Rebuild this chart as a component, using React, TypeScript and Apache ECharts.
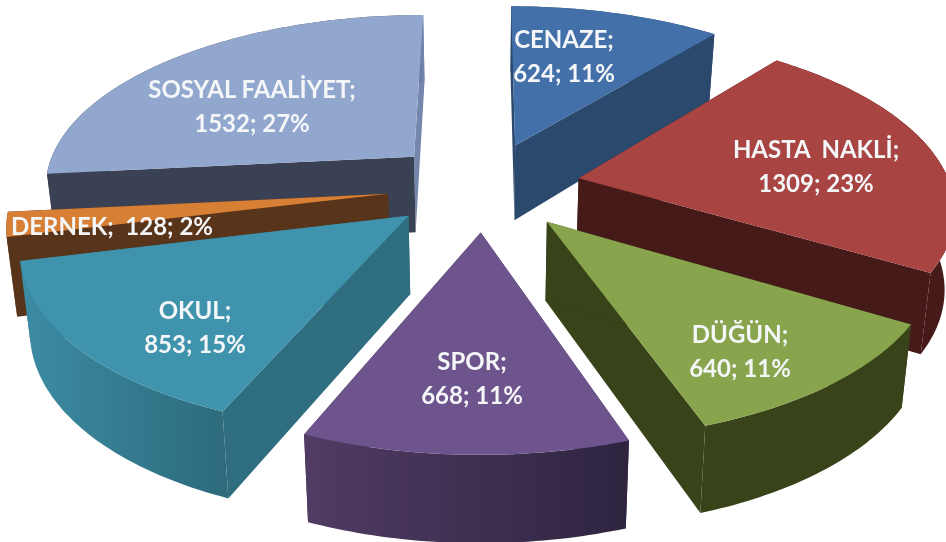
import React, { useEffect, useRef } from "react";
import * as echarts from "echarts";

const names = ["CENAZE", "HASTA  NAKLİ", "DÜĞÜN", "SPOR", "OKUL", "DERNEK", "SOSYAL FAALİYET"];
const values = [624, 1309, 640, 668, 853, 128, 1532];
const percents = [11, 23, 11, 11, 15, 2, 27];

const topColors = ["#4370A8", "#A84442", "#88A44D", "#6E548D", "#3F93AD", "#D77F35", "#92A7CE"];
const wallColors = ["#2B486D", "#451A18", "#384319", "#3F2F52", "#2F6E80", "#58341A", "#3B4154"];
const endWallColors = ["#2B486D", "#451A18", "#384319", "#3F2F52", "#2F6E80", "#58341A", "#7486AB"];
const rimLight = ["#2B486D", "#451A18", "#384319", "#503C64", "#3C8CA4", "#58341A", "#3B4154"];
const rimDark = ["#2B486D", "#451A18", "#384319", "#2E2440", "#2D6A7C", "#58341A", "#7486AB"];
const rimHold = [0, 0, 0, 0, 0, 0, 0.9];

// back-to-front painting order
const drawOrder = [6, 0, 5, 1, 4, 2, 3];
// text anchors (layout only)
const labelAnchors = [
  [564, 55], [816, 165], [740, 350], [472, 377], [195, 326], [112, 225], [252, 105],
];

const CX = 484, CY = 186, A = 372, B = 172, PERSP = 0.154, EXPLODE = 0.26;
const BASE_SCALE = 0.978, H0 = 77, HK = 9;

const total = values.reduce((s, v) => s + v, 0);
const starts: number[] = [];
values.reduce((acc, v, i) => { starts[i] = acc; return acc + (v / total) * 360; }, 0);
const rad = (d: number) => (d * Math.PI) / 180;

function planePoint(i: number, r: number, deg: number) {
  const mid = starts[i] + (values[i] / total) * 180;
  return [
    EXPLODE * Math.sin(rad(mid)) + r * Math.sin(rad(deg)),
    EXPLODE * Math.cos(rad(mid)) + r * Math.cos(rad(deg)),
  ];
}
function top(i: number, r: number, deg: number) {
  const [X, Y] = planePoint(i, r, deg);
  const w = 1 + PERSP * Y;
  return [CX + (A * X) / w, CY - (B * Y) / w];
}
function bottom(i: number, r: number, deg: number) {
  const [, Y] = planePoint(i, r, deg);
  const [x, y] = top(i, r, deg);
  return [CX + (x - CX) * BASE_SCALE, y + H0 - HK * Y];
}

function renderSlice(_: any, api: any) {
  const i = api.value(0);
  const s = starts[i];
  const e = s + (values[i] / total) * 360;
  const n = Math.max(6, Math.ceil(e - s));
  const degs = Array.from({ length: n + 1 }, (_v, k) => s + ((e - s) * k) / n);
  const topArc = degs.map((d) => top(i, 1, d));
  const botArc = degs.map((d) => bottom(i, 1, d));
  const poly = (points: number[][], fill: any) => ({
    type: "polygon",
    shape: { points },
    style: { fill, stroke: null },
  });
  const radialWall = (d: number, color: string) =>
    poly([top(i, 0, 0), top(i, 1, d), bottom(i, 1, d), bottom(i, 0, 0)], color);
  const rimFill = new echarts.graphic.LinearGradient(0, 0, 1, 0, [
    { offset: rimHold[i], color: rimLight[i] },
    { offset: 1, color: rimDark[i] },
  ]);
  return {
    type: "group",
    children: [
      radialWall(e, endWallColors[i]),
      radialWall(s, wallColors[i]),
      poly([...topArc, ...botArc.slice().reverse()], rimFill),
      poly([top(i, 0, 0), ...topArc], topColors[i]),
    ],
  };
}

function renderLabel(_: any, api: any) {
  const i = api.value(0);
  const isSingle = names[i] === "DERNEK";
  const text = `${names[i]};${isSingle ? "  " : "\n"}${values[i]}; ${percents[i]}%`;
  return {
    type: "text",
    x: labelAnchors[i][0],
    y: labelAnchors[i][1],
    style: {
      text,
      fill: "#F4F6F8",
      font: "bold 24px Lato",
      align: "center",
      verticalAlign: "middle",
      lineHeight: 34,
    },
  };
}

export default function App() {
  const ref = useRef<HTMLDivElement>(null);
  useEffect(() => {
    const chart = echarts.init(ref.current!, null, { renderer: "svg" });
    chart.setOption({
      animation: false,
      backgroundColor: "#ffffff",
      series: [
        {
          type: "custom",
          coordinateSystem: "none",
          silent: true,
          z: 2,
          data: drawOrder.map((i) => [i]),
          renderItem: renderSlice,
        },
        {
          type: "custom",
          coordinateSystem: "none",
          silent: true,
          z: 5,
          data: names.map((_n, i) => [i]),
          renderItem: renderLabel,
        },
      ],
    });
    return () => chart.dispose();
  }, []);
  return (
    <div
      ref={ref}
      style={{ position: "absolute", left: 0, top: 0, width: 946, height: 542, filter: "blur(0.5px)" }}
    />
  );
}
